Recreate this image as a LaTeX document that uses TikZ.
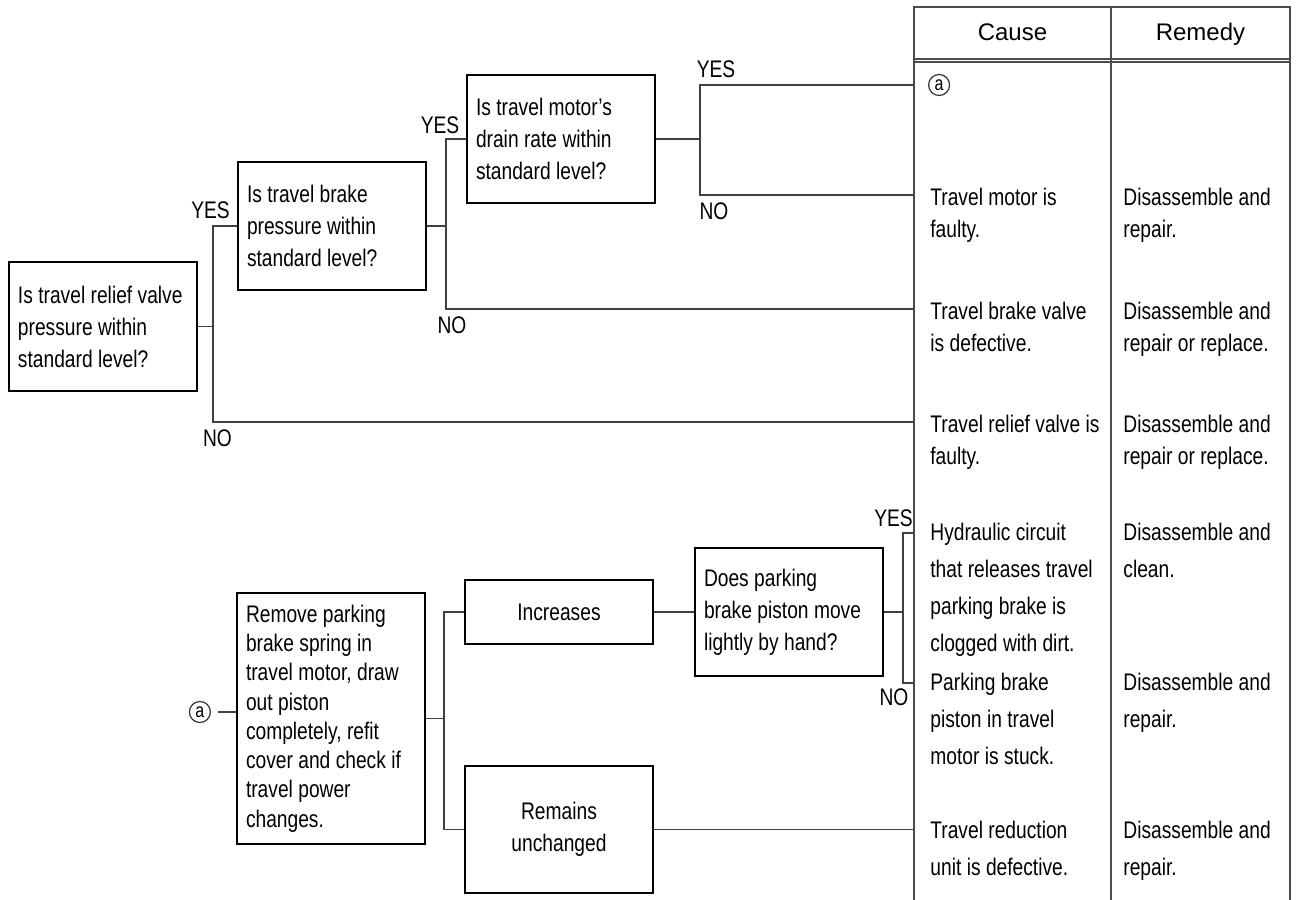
\documentclass[tikz,border=0pt]{standalone}
\usepackage{fontspec}
\setmainfont{Liberation Sans}[FakeStretch=0.8]
\newfontfamily\headfont{Liberation Sans}
\usetikzlibrary{positioning}

\tikzset{
  tight/.style={execute at begin node={\spaceskip=2.7pt plus 1pt minus 0.3pt\xspaceskip=\spaceskip}},
  question/.style={draw, line width=1pt, minimum width=94pt, text width=85pt, tight,
    inner xsep=4.5pt, align=left, font=\fontsize{12}{16}\selectfont},
  answer/.style={question, align=center},
  fork/.style={draw=black!75, line width=0.75pt},
  tabline/.style={draw=black!70, line width=0.9pt},
  cause/.style={anchor=base west, inner sep=0pt, text width=92pt, align=left, tight,
    font=\fontsize{12}{16}\selectfont},
  causelow/.style={cause, font=\fontsize{12}{18.5}\selectfont},
  remedy/.style={cause, text width=84pt},
  remedylow/.style={causelow, text width=84pt},
  yesno/.style={inner sep=0pt, font=\fontsize{12}{14}\selectfont},
  circmark/.style={draw=black!80, circle, line width=0.6pt, minimum size=10.5pt,
    inner sep=0pt, font=\fontsize{10}{10}\selectfont},
  header/.style={anchor=base, inner sep=0pt, font=\headfont\fontsize{12}{14}\selectfont}
}

\begin{document}
\begin{tikzpicture}[x=0.5pt, y=-0.5pt]
  \useasboundingbox (0,0) rectangle (1297,900);

  % cause / remedy table
  \coordinate (tnw) at (914,7);
  \coordinate (tmid) at (1111,7);
  \coordinate (tne) at (1290,7);
  \draw[tabline] (914,900) -- (tnw) -- (tne) -- (1290,900);
  \draw[tabline] (tmid) -- (1111,900);
  \draw[tabline] (914,59) -- (1290,59) (914,62) -- (1290,62);
  \node[header] (hcause) at (1012.5,40) {Cause};
  \node[header] (hremedy) at (1200.5,40) {Remedy};

  % ends of the branches on the table edge
  \coordinate (ta) at (914,85);
  \coordinate (tb) at (914,195);
  \coordinate (tc) at (914,309);
  \coordinate (td) at (914,422);
  \coordinate (te) at (914,533);
  \coordinate (tf) at (914,683);

  % upper tree
  \node[question, minimum height=64.5pt] (relief) at (103,326.5)
    {Is travel relief valve\\pressure within\\standard level?};
  \node[question, minimum height=64pt, right=19.5pt of relief, yshift=50.25pt] (brake)
    {Is travel brake\\pressure within\\standard level?};
  \node[question, minimum height=64pt, right=19.5pt of brake, yshift=43.5pt] (drain)
    {Is travel motor's\\drain rate within\\standard level?};

  \coordinate (f1) at ([xshift=7.5pt]relief.east);
  \coordinate (f1t) at (f1 |- brake.west);
  \coordinate (f1b) at (f1 |- td);
  \draw[fork] (relief.east) -- (f1);
  \draw[fork] (brake.west) -- (f1t) -- (f1b) -- (td);
  \node[yesno, above=3.5pt of f1t, xshift=-1.25pt] (yes1) {YES};
  \node[yesno, below=3.5pt of f1b, xshift=2.25pt] (no1) {NO};

  \coordinate (f2) at ([xshift=9.5pt]brake.east);
  \coordinate (f2t) at (f2 |- drain.west);
  \coordinate (f2b) at (f2 |- tc);
  \draw[fork] (brake.east) -- (f2);
  \draw[fork] (drain.west) -- (f2t) -- (f2b) -- (tc);
  \node[yesno, above=2.5pt of f2t, xshift=-3pt] (yes2) {YES};
  \node[yesno, below=3.5pt of f2b, xshift=3pt] (no2) {NO};

  \coordinate (f3) at ([xshift=22pt]drain.east);
  \coordinate (f3t) at (f3 |- ta);
  \coordinate (f3b) at (f3 |- tb);
  \draw[fork] (drain.east) -- (f3);
  \draw[fork] (ta) -- (f3t) -- (f3b) -- (tb);
  \node[yesno, above=3.5pt of f3t, xshift=8pt] (yes3) {YES};
  \node[yesno, below=3.5pt of f3b, xshift=7pt] (no3) {NO};

  % lower tree
  \node[question, minimum height=125.5pt, font=\fontsize{12}{14.65}\selectfont] (remove) at (331,718.5)
    {Remove parking\\brake spring in\\travel motor, draw\\out piston\\completely, refit\\cover and check if\\travel power\\changes.};
  \node[circmark, left=12.5pt of remove, yshift=3.25pt] (astart) {a};
  \draw[fork, shorten <=3.5pt] (astart.east) -- (astart -| remove.west);

  \node[answer, minimum height=32pt, right=19pt of remove, yshift=53.25pt] (incr) {Increases};
  \node[answer, minimum height=63.5pt, right=19pt of remove, yshift=-55.5pt] (remain) {Remains\\unchanged};
  \node[question, minimum height=64pt, right=20pt of incr] (piston)
    {Does parking\\brake piston move\\lightly by hand?};
  \coordinate (tg) at (remain.east -| tnw);

  \coordinate (f4) at ([xshift=9pt]remove.east);
  \coordinate (f4t) at (f4 |- incr.west);
  \coordinate (f4b) at (f4 |- remain.west);
  \draw[fork] (remove.east) -- (f4);
  \draw[fork] (incr.west) -- (f4t) -- (f4b) -- (remain.west);
  \draw[fork] (incr.east) -- (piston.west);
  \draw[fork] (remain.east) -- (tg);

  \coordinate (f5) at ([xshift=9.5pt]piston.east);
  \coordinate (f5t) at (f5 |- te);
  \coordinate (f5b) at (f5 |- tf);
  \draw[fork] (piston.east) -- (f5);
  \draw[fork] (te) -- (f5t) -- (f5b) -- (tf);
  \node[yesno, above=3pt of f5t, xshift=-4.75pt] (yes5) {YES};
  \node[yesno, below=2.5pt of f5b, xshift=-4.5pt] (no5) {NO};

  % causes
  \node[circmark, right=7pt of ta] (acause) {a};
  \node[cause] (motor) at (930,205) {Travel motor is\\faulty.};
  \node[cause] (bvalve) at (930,319) {Travel brake valve\\is defective.};
  \node[cause] (rvalve) at (930,432) {Travel relief valve is\\faulty.};
  \node[causelow] (circuit) at (930,540) {Hydraulic circuit\\that releases travel\\parking brake is\\clogged with dirt.};
  \node[causelow] (stuck) at (930,690) {Parking brake\\piston in travel\\motor is stuck.};
  \node[causelow] (reduct) at (930,838) {Travel reduction\\unit is defective.};

  % remedies
  \node[remedy] (fixmotor) at (1123,205) {Disassemble and\\repair.};
  \node[remedy] (fixbvalve) at (1123,319) {Disassemble and\\repair or replace.};
  \node[remedy] (fixrvalve) at (1123,432) {Disassemble and\\repair or replace.};
  \node[remedylow] (fixcircuit) at (1123,540) {Disassemble and\\clean.};
  \node[remedylow] (fixstuck) at (1123,690) {Disassemble and\\repair.};
  \node[remedylow] (fixreduct) at (1123,838) {Disassemble and\\repair.};
\end{tikzpicture}
\end{document}
